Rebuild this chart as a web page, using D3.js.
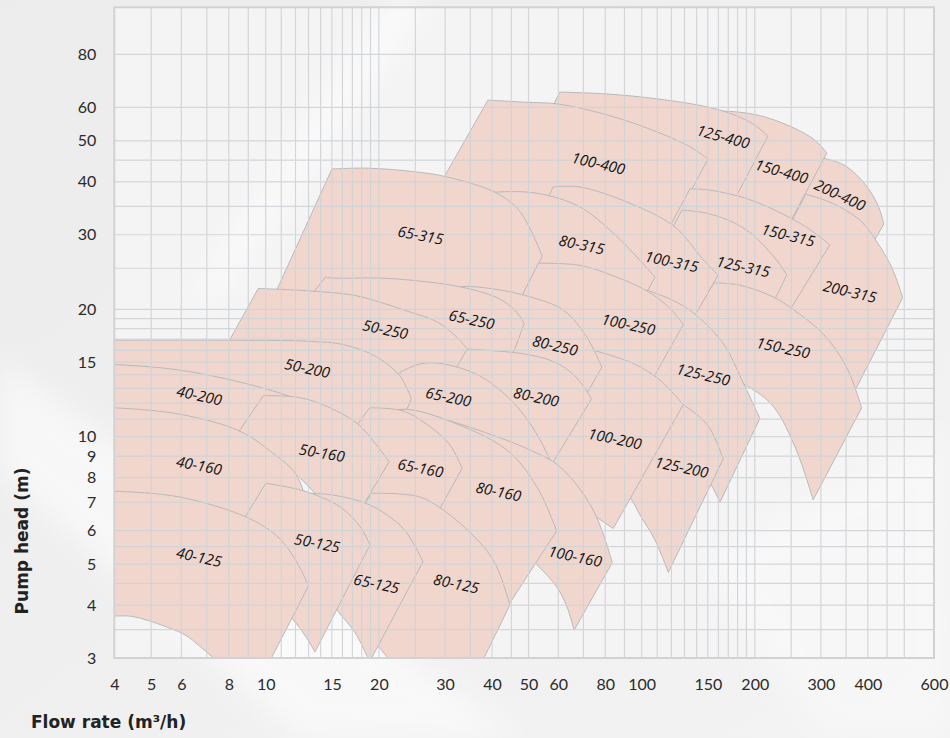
<!DOCTYPE html>
<html>
<head>
<meta charset="utf-8">
<title>Pump selection chart</title>
<script src="https://cdn.jsdelivr.net/npm/d3@7/dist/d3.min.js"></script>
<style>
  html, body { margin: 0; padding: 0; background: #eeeeee; }
  svg { display: block; }
</style>
</head>
<body>
<svg id="chart" width="950" height="738"></svg>
<script>
// pump models in drawing order (upper rows first, right to left inside a row)
const models = ["200-400","150-400","125-400","100-400",
  "200-315","150-315","125-315","100-315","80-315","65-315",
  "150-250","125-250","100-250","125-200","100-200","80-250","65-250","50-250",
  "80-200","65-200","50-200","40-200",
  "100-160","80-160","65-160","50-160","40-160",
  "80-125","65-125","50-125","40-125"];

// upper curve of each field, [flow m3/h, head m], left to right
const tops = [
  [[251,47.0],[305,45.5],[349,43.6],[393,39.5],[425,35.3],[441,31.8]],
  [[144.7,58.2],[163.5,58.8],[203.9,57.5],[251,53.9],[289,50.2],[311,46.8]],
  [[60.6,65.2],[81.4,64.5],[110.5,62.8],[150.1,60.1],[177,57.5],[200.1,54.5],[216.7,51.3]],
  [[39.0,62.4],[48.9,61.7],[59.9,61.1],[81.4,57.5],[110.5,52.4],[136.1,48.1],[150.1,45.3]],
  [[273.5,37.4],[307,36.2],[341,34.7],[385,32.2],[430,28.2],[466,24.8],[495,21.3]],
  [[134.4,38.5],[150.1,38.3],[184.9,36.8],[226.2,34.3],[276.9,31.1],[316.8,28.4]],
  [[128.0,34.3],[147.4,33.8],[169.7,32.5],[194,30.4],[212.8,28.1],[230.4,25.9],[243.4,24.1]],
  [[58.1,38.9],[68.5,38.9],[93.1,35.6],[122.6,31.3],[144.7,26.4],[159.6,24.1]],
  [[34.9,37.2],[40.2,37.8],[52.7,37.6],[68.5,34.9],[83.9,30.3],[99.0,26.1],[108.5,23.8]],
  [[15.0,42.9],[18.6,43.1],[24.7,42.3],[30.3,41.1],[41.2,37.6],[47.5,34.0],[54.4,26.7]],
  [[155.7,23.1],[182.5,22.8],[223.9,21.4],[250.6,20.1],[304,17.5],[351,14.6],[385,11.7]],
  [[103.1,22.2],[115.3,21.4],[134.4,19.9],[164.8,16.6],[186.3,13.4],[206.4,11.05]],
  [[53.1,25.7],[68.5,25.4],[83.9,24.0],[103.3,22.1],[118.9,20.1],[129.0,18.4]],
  [[105.2,12.5],[118.9,12.3],[129.0,11.9],[150.3,10.6],[164.8,8.86]],
  [[74.3,16.0],[95.0,14.9],[111.9,13.6],[129.0,11.9]],
  [[30.0,22.0],[32.9,22.6],[39.5,22.4],[50.5,21.4],[61.9,19.9],[71.4,17.2],[78.3,14.6]],
  [[14.4,23.8],[15.1,23.7],[20.1,23.7],[24.7,23.4],[32.9,22.6],[41.2,21.3],[46.0,19.9],[48.7,18.5]],
  [[9.56,22.4],[13.1,22.1],[17.1,21.6],[20.1,20.8],[24.2,19.7],[28.5,18.7],[32.2,17.2],[34.4,16.1]],
  [[34.3,16.1],[48.4,15.7],[58.8,15.0],[66.5,13.9],[73.6,12.3]],
  [[22.76,14.2],[25.7,14.85],[29.1,14.9],[37.2,13.9],[46.5,11.8],[53.7,9.82],[59.2,8.12]],
  [[3.67,16.9],[8.06,16.9],[13.1,16.8],[16.1,16.5],[19.7,15.45],[22.76,13.9],[24.4,12.3]],
  [[3.67,14.8],[4.02,14.8],[5.83,14.4],[8.73,13.4],[12.34,12.2],[15.76,10.95],[17.82,9.82]],
  [[20.1,11.4],[23.7,11.6],[30.9,10.9],[41.2,10.0],[50.5,9.30],[60.6,8.49],[74.3,6.71],[83.5,5.04]],
  [[21.4,11.4],[23.7,11.6],[30.3,10.95],[43.8,9.30],[52.6,7.62],[59.4,5.99]],
  [[18.9,11.7],[23.2,11.5],[27.4,10.55],[30.9,9.56],[33.3,8.42]],
  [[9.86,12.5],[12.1,12.4],[14.2,11.9],[17.5,10.75],[19.7,9.56],[21.3,8.73]],
  [[3.67,11.7],[3.99,11.7],[5.95,11.3],[8.56,10.3],[10.7,9.00],[11.8,8.34],[12.34,7.81],[12.8,7.09]],
  [[19.1,7.35],[22.76,7.32],[26.2,7.16],[32.9,6.24],[40.3,5.11],[44.6,4.00]],
  [[12.34,7.36],[15.1,7.28],[18.9,6.90],[22.76,6.18],[24.5,5.67],[26.2,5.07]],
  [[10.0,7.76],[12.6,7.45],[15.76,6.83],[17.82,6.13],[18.94,5.55]],
  [[3.58,7.42],[4.0,7.43],[5.95,7.20],[8.91,6.45],[10.7,5.83],[11.82,5.23],[13.01,4.45]]
];

// lower curve of each field, from the bottom tip back to the left
const bottoms = [
  [[376,24.8],[329,28.2],[284,31.1],[251,32.5]],
  [[240.4,30.4],[206.4,33.6],[171.8,36.2],[144.7,38.3]],
  [[169.7,33.9],[134.4,36.6],[99.0,40.4],[72.9,45.0],[53.7,53.0]],
  [[108.5,26.4],[77.5,29.5],[50.5,35.3],[28.7,38.7]],
  [[327,10.4],[289,13.2],[248,16.5],[194,21.0]],
  [[230.4,17.9],[194,19.9],[152,21.6],[99.6,23.4]],
  [[206.4,17.9],[177,19.9],[142.9,21.0],[98.4,22.2]],
  [[130.3,17.4],[105.2,20.5],[77.5,22.8],[55.3,35.3]],
  [[93.1,18.7],[72.9,21.6],[53.7,24.1],[34.9,29.9]],
  [[43.3,17.9],[32.9,20.5],[20.1,22.0],[10.27,20.5]],
  [[286,7.09],[258,9.30],[223.9,11.8],[190.2,13.2],[152,14.4],[118.2,15.2]],
  [[161.5,7.00],[153.5,7.66],[134.4,9.05],[111.9,10.4],[72.9,12.2]],
  [[104.6,13.2],[87.5,14.4],[68.5,16.5],[44.6,18.9]],
  [[117.7,4.78],[108.5,5.70],[99.0,6.53],[94.1,7.09],[82.3,8.34]],
  [[84.0,6.07],[76.7,6.41],[60.6,7.48],[53.7,8.81]],
  [[67.7,11.6],[53.7,12.9],[42.0,14.2],[31.9,15.85]],
  [[43.3,14.0],[34.9,15.85],[25.7,17.1],[11.19,17.9]],
  [[29.1,12.2],[22.1,13.2],[14.8,15.6],[7.40,14.8]],
  [[53.0,7.60],[44.6,9.05],[34.9,10.65],[28.8,12.2]],
  [[47.5,6.53],[39.5,7.90],[30.9,9.30],[22.2,10.4]],
  [[21.7,9.56],[17.8,10.26],[12.34,11.4],[6.72,12.9],[3.67,13.2]],
  [[14.8,7.09],[10.9,9.30],[6.72,10.48],[3.67,11.25]],
  [[66.1,3.49],[63.3,3.96],[59.5,4.41],[52.7,4.98],[42.0,6.02],[27.4,8.34],[20.1,9.82]],
  [[42.0,3.73],[37.2,4.71],[30.9,5.55],[22.76,6.36]],
  [[25.7,5.55],[22.76,6.53],[18.94,7.09],[14.8,8.71]],
  [[16.3,5.86],[14.0,7.09],[11.6,8.34],[8.20,9.82]],
  [[10.6,5.11],[8.56,6.36],[5.95,7.09],[3.67,7.28]],
  [[36.7,2.81],[22.76,2.84],[15.0,5.11]],
  [[18.9,2.94],[17.3,3.44],[15.5,3.89],[14.0,4.46],[12.34,5.11]],
  [[13.52,3.10],[12.7,3.40],[11.84,3.69],[9.66,4.46],[7.82,5.40]],
  [[9.37,2.52],[7.23,3.02],[6.21,3.38],[5.50,3.55],[4.47,3.76],[4.0,3.77],[3.58,3.77]]
];

// label position [flow, head, rotation deg], same order as models
const labelPos = [
  [337,37.2,25],[235.6,42.3,16],[164.8,51.1,15],[76.7,44.2,13],
  [358,22.0,13],[245.4,29.9,14],[186.3,25.2,12],[120.2,25.9,12],[69.2,28.4,12],[25.8,29.9,11],
  [238,16.2,12],[145.8,14.0,13],[92.1,18.4,12],[127.8,8.46,12],[84.9,9.88,12],[58.8,16.4,13],[35.3,18.9,12],[20.8,17.9,12],
  [52.4,12.4,12],[30.6,12.4,12],[12.9,14.5,12],[6.69,12.5,12],
  [66.5,5.21,12],[41.6,7.41,12],[25.8,8.42,11],[14.1,9.15,10],[6.68,8.54,11],
  [32.1,4.49,12],[19.7,4.49,12],[13.7,5.60,11],[6.68,5.19,12]
];

const xTicks = [4,5,6,8,10,15,20,30,40,50,60,80,100,150,200,300,400,600];
const yTicks = [3,4,5,6,7,8,9,10,15,20,30,40,50,60,80];
const xGrid = [5,6,7,8,9,10,11,12,13,14,15,16,17,18,19,20,25,30,35,40,45,50,60,70,80,90,
  100,110,120,130,140,150,160,170,180,190,200,250,300,350,400,450,500];
const yGrid = [3.5,4,4.5,5,5.5,6,7,8,9,10,11,12,13,14,15,16,17,18,19,20,25,30,35,40,45,50,60,80];

const svg = d3.select("#chart");

// chart scales (log-log, slightly stretched at the low end as in the print)
const x = d3.scaleLog().domain([4, 10, 100, 600]).range([114.3, 265.7, 641.7, 934]);
const y = d3.scaleLog().domain([3, 103.4]).range([658, 7.3]);
const plotL = x(4), plotR = x(600), plotT = y(103.4), plotB = y(3);

// background with a soft light streak
const defs = svg.append("defs");
const bg = defs.append("linearGradient").attr("id", "bg").attr("x1", 0).attr("y1", 0).attr("x2", 1).attr("y2", 1);
bg.append("stop").attr("offset", "0%").attr("stop-color", "#ececec");
bg.append("stop").attr("offset", "55%").attr("stop-color", "#f0f0f0");
bg.append("stop").attr("offset", "100%").attr("stop-color", "#f3f3f3");
defs.append("filter").attr("id", "soft").append("feGaussianBlur").attr("stdDeviation", 14);
defs.append("clipPath").attr("id", "plot")
  .append("rect").attr("x", plotL).attr("y", plotT).attr("width", plotR - plotL).attr("height", plotB - plotT);

svg.append("rect").attr("width", 950).attr("height", 738).attr("fill", "url(#bg)");
svg.append("rect").attr("x", plotL).attr("y", plotT).attr("width", plotR - plotL).attr("height", plotB - plotT)
  .attr("fill", "#f4f4f4");
svg.append("path").attr("d", "M0,360 L0,470 L300,738 L520,738 Z").attr("fill", "#fff")
  .attr("opacity", 0.55).attr("filter", "url(#soft)");
svg.append("path").attr("d", "M390,0 L430,0 L215,300 L190,300 Z").attr("fill", "#fff")
  .attr("opacity", 0.6).attr("filter", "url(#soft)");
svg.append("path").attr("d", "M700,560 L950,430 L950,738 L820,738 Z").attr("fill", "#fff")
  .attr("opacity", 0.35).attr("filter", "url(#soft)");

// pump fields
const line = d3.line().x(d => x(d[0])).y(d => y(d[1])).curve(d3.curveCatmullRom.alpha(0.5));
const outline = i => line(tops[i]) + line(bottoms[i]).replace("M", "L") + "Z";

svg.append("g").attr("clip-path", "url(#plot)")
  .selectAll("path").data(models).join("path")
  .attr("d", (d, i) => outline(i))
  .attr("fill", "#f1d6ce")
  .attr("stroke", "#b8b9bb")
  .attr("stroke-width", 1)
  .attr("stroke-linejoin", "miter");

// grid over the fields
const grid = svg.append("g").attr("stroke", "#cfd3d7").attr("stroke-width", 1.2).attr("opacity", 0.9);
grid.selectAll(".gx").data(xGrid).join("line").attr("class", "gx")
  .attr("x1", d => x(d)).attr("x2", d => x(d)).attr("y1", plotT).attr("y2", plotB);
grid.selectAll(".gy").data(yGrid).join("line").attr("class", "gy")
  .attr("x1", plotL).attr("x2", plotR).attr("y1", d => y(d)).attr("y2", d => y(d));

svg.append("rect").attr("x", plotL).attr("y", plotT).attr("width", plotR - plotL).attr("height", plotB - plotT)
  .attr("fill", "none").attr("stroke", "#d2d2d2").attr("stroke-width", 2);

// field names
svg.append("g").selectAll("text").data(models).join("text")
  .attr("transform", (d, i) => `translate(${x(labelPos[i][0])},${y(labelPos[i][1])}) rotate(${labelPos[i][2]})`)
  .attr("text-anchor", "middle").attr("dy", "0.35em")
  .attr("font-family", "'Open Sans', sans-serif").attr("font-style", "italic")
  .attr("font-size", 15).attr("fill", "#111")
  .text(d => d);

// axes
const fmt = d3.format("d");
const xAxis = svg.append("g").attr("transform", `translate(0,${plotB})`)
  .call(d3.axisBottom(x).tickValues(xTicks).tickFormat(fmt).tickSize(0).tickPadding(21));
const yAxis = svg.append("g").attr("transform", `translate(${plotL},0)`)
  .call(d3.axisLeft(y).tickValues(yTicks).tickFormat(fmt).tickSize(0).tickPadding(18));
[xAxis, yAxis].forEach(a => {
  a.select(".domain").remove();
  a.selectAll("text").attr("font-family", "Lato, sans-serif").attr("font-size", 16).attr("fill", "#2a2a2a");
});

svg.append("text").attr("transform", "translate(28,541) rotate(-90)")
  .attr("text-anchor", "middle").attr("font-family", "'DejaVu Sans', sans-serif")
  .attr("font-weight", "bold").attr("font-size", 17).attr("fill", "#222")
  .text("Pump head (m)");
svg.append("text").attr("x", 31).attr("y", 728)
  .attr("font-family", "'DejaVu Sans', sans-serif")
  .attr("font-weight", "bold").attr("font-size", 17).attr("fill", "#222")
  .text("Flow rate (m³/h)");
</script>
</body>
</html>
